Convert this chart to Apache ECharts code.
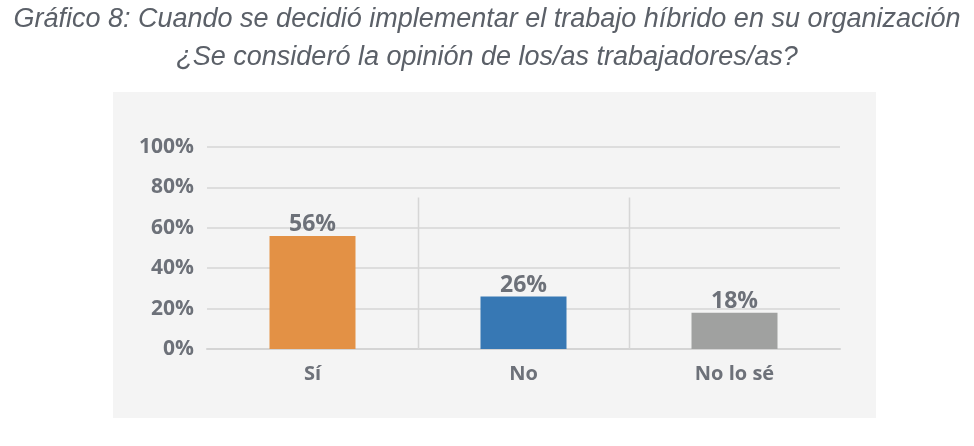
<!DOCTYPE html>
<html><head><meta charset="utf-8">
<script src="https://cdn.jsdelivr.net/npm/echarts@6/dist/echarts.min.js"></script>
<style>html,body{margin:0;padding:0;background:#fff}#c{width:974px;height:446px}</style>
</head><body><div id="c"></div>
<script>
const categories = ['Sí', 'No', 'No lo sé'];
const values = [56, 26, 18];
const barColors = ['#E39145', '#3778B4', '#A0A1A0'];
const yTicks = [0, 20, 40, 60, 80, 100];
const separatorTop = 75;
const titleLines = ['Gráfico 8: Cuando se decidió implementar el trabajo híbrido en su organización', '¿Se consideró la opinión de los/as trabajadores/as?'];

const txt = '#6D7179';
const chart = echarts.init(document.getElementById('c'), null, {renderer: 'canvas'});
chart.setOption({
  backgroundColor: '#ffffff',
  animation: false,
  graphic: [{
    type: 'rect', z: -10, shape: {x: 113, y: 92, width: 763, height: 326},
    style: {fill: '#F4F4F4'}
  }],
  title: {
    text: titleLines.join('\n'), left: 'center', top: -5,
    textStyle: {fontFamily: 'Liberation Sans', fontStyle: 'italic', fontWeight: 'normal', fontSize: 27, color: '#5B6068', lineHeight: 38}
  },
  grid: {left: 207, right: 134, top: 147, bottom: 97},
  xAxis: {
    type: 'category', data: categories,
    axisLine: {show: true, lineStyle: {color: '#D4D4D4', width: 2}},
    axisTick: {show: false},
    axisLabel: {color: txt, fontFamily: 'Open Sans', fontWeight: 'bold', fontSize: 20, margin: 15}
  },
  yAxis: {
    type: 'value', min: 0, max: 100, interval: 20,
    axisLine: {show: false}, axisTick: {show: false},
    splitLine: {lineStyle: {color: '#D6D6D6', width: 1.5}},
    axisLabel: {color: txt, fontFamily: 'Open Sans', fontWeight: 'bold', fontSize: 21, margin: 13,
      formatter: v => yTicks.includes(v) ? v + '%' : ''}
  },
  series: [{
    type: 'bar', barWidth: 86,
    data: values.map((v, i) => ({value: v, itemStyle: {color: barColors[i]}})),
    label: {show: true, position: 'top', distance: 0, formatter: '{c}%', color: txt,
      fontFamily: 'Open Sans', fontWeight: 'bold', fontSize: 23}
  }, {
    type: 'custom', silent: true, z: 1,
    data: categories.slice(0, -1).map((c, i) => [i, separatorTop]),
    renderItem: function (params, api) {
      const i = api.value(0);
      const a = api.coord([i, 0]);
      const b = api.coord([i + 1, 0]);
      const t = api.coord([i, api.value(1)]);
      const x = Math.round((a[0] + b[0]) / 2) + 0.5;
      return {type: 'line', shape: {x1: x, y1: t[1], x2: x, y2: a[1]},
        style: {stroke: '#D6D6D6', lineWidth: 1.5}};
    }
  }]
});
</script></body></html>
